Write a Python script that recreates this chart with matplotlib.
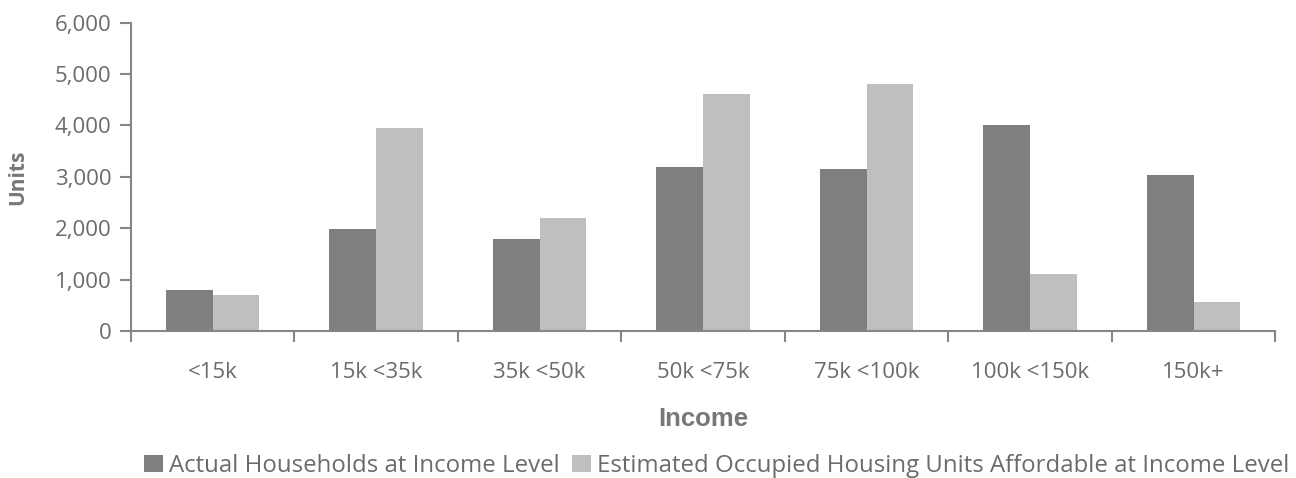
import numpy as np
import matplotlib.pyplot as plt

plt.rcParams['font.family'] = ['Open Sans', 'DejaVu Sans']

categories = ['<15k', '15k <35k', '35k <50k', '50k <75k', '75k <100k', '100k <150k', '150k+']
actual = [790, 1980, 1800, 3200, 3150, 4000, 3030]
affordable = [710, 3950, 2190, 4620, 4800, 1100, 560]
yticks = [0, 1000, 2000, 3000, 4000, 5000, 6000]

text_col = '#6b6b6b'
axis_col = '#868686'

fig = plt.figure(figsize=(12.96, 4.78), dpi=100)
ax = fig.add_axes([0.101, 0.3075, 0.883, 0.645])

x = np.arange(len(categories))
w = 1 / 3.5
ax.bar(x - w / 2, actual, w, color='#7f7f7f', label='Actual Households at Income Level')
ax.bar(x + w / 2, affordable, w, color='#bfbfbf',
       label='Estimated Occupied Housing Units Affordable at Income Level')

ax.set_xlim(-0.5, len(categories) - 0.5)
ax.set_ylim(0, 6000)
ax.set_yticks(yticks)
ax.set_yticklabels([f'{v:,}' for v in yticks])
ax.set_xticks(x)
ax.set_xticklabels(categories)
ax.set_xticks(np.arange(-0.5, len(categories)), minor=True)

for s in ['top', 'right']:
    ax.spines[s].set_visible(False)
for s in ['left', 'bottom']:
    ax.spines[s].set_color(axis_col)
    ax.spines[s].set_linewidth(1.5)

ax.tick_params(axis='x', which='major', length=0, pad=22, labelsize=16, labelcolor=text_col)
ax.tick_params(axis='x', which='minor', length=8, width=1.5, color=axis_col, direction='out')
ax.tick_params(axis='y', length=8, width=1.5, color=axis_col, labelsize=16, labelcolor=text_col, pad=6)

xl = ax.set_xlabel('Income', fontsize=18.5, fontweight='bold', color='#777777',
                   family=['Liberation Sans', 'DejaVu Sans'])
xl.set_va('center')
ax.xaxis.set_label_coords(0.5, -0.286)
yl = ax.set_ylabel('Units', fontsize=15, fontweight='bold', color='#777777')
yl.set_va('center')
ax.yaxis.set_label_coords(-0.099, 0.5)

fig.legend(loc='center', bbox_to_anchor=(0.553, 0.025), ncol=2, frameon=False,
           fontsize=17.3, labelcolor=text_col, handlelength=0.75, handleheight=0.75,
           handletextpad=0.25, columnspacing=0.55)

fig.savefig('out.png', dpi=100)
